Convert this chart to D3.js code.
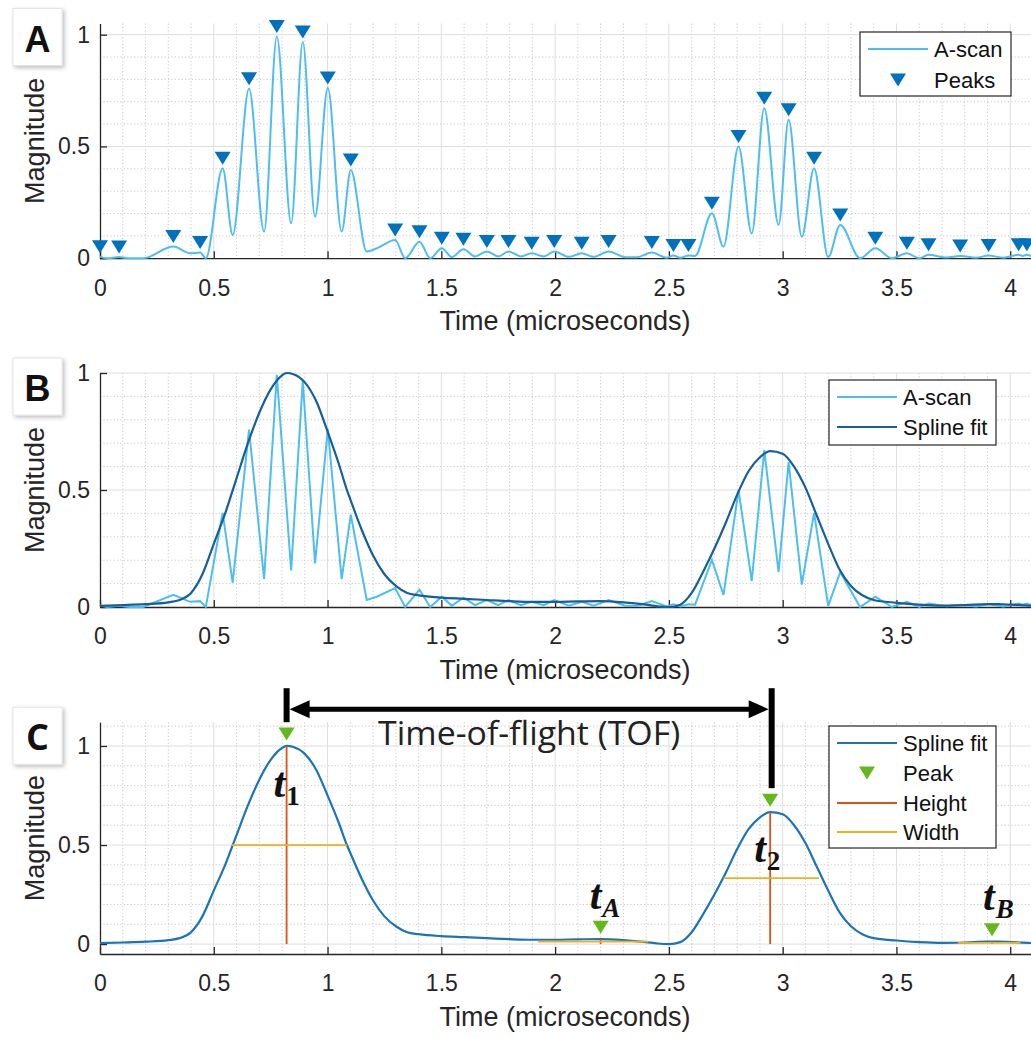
<!DOCTYPE html>
<html><head><meta charset="utf-8">
<script src="https://cdn.jsdelivr.net/npm/d3@7"></script>
<style>body{margin:0;background:#fff}svg{display:block}</style>
</head><body>
<svg id="chart" width="1031" height="1038"></svg>
<script>
// ---------------- DATA ----------------
const ascanT = [0.0,0.03,0.084,0.13,0.19,0.322,0.396,0.44,0.465,0.539,0.583,0.655,0.721,0.777,0.84,0.891,0.945,1.001,1.062,1.102,1.172,1.216,1.297,1.341,1.404,1.451,1.502,1.546,1.597,1.648,1.70,1.75,1.795,1.85,1.897,1.95,1.996,2.06,2.117,2.17,2.235,2.31,2.36,2.425,2.49,2.52,2.55,2.586,2.615,2.689,2.74,2.806,2.864,2.919,2.982,3.026,3.084,3.138,3.20,3.253,3.34,3.407,3.48,3.546,3.60,3.641,3.72,3.78,3.85,3.905,3.97,4.037,4.055,4.073,4.10];
const ascanV = [0.007,0.0,0.005,0.0,0.0,0.052,0.022,0.025,0.0,0.402,0.104,0.758,0.119,0.992,0.156,0.967,0.186,0.761,0.119,0.395,0.03,0.044,0.081,0.0,0.074,0.0,0.044,0.005,0.04,0.008,0.03,0.008,0.03,0.008,0.022,0.008,0.03,0.006,0.022,0.006,0.03,0.004,0.004,0.025,0.002,0.012,0.002,0.012,0.01,0.201,0.052,0.50,0.111,0.671,0.149,0.619,0.096,0.402,0.005,0.149,0.0,0.044,0.0,0.022,0.0,0.015,0.003,0.01,0.002,0.012,0.002,0.015,0.01,0.015,0.005];

const peaksT = [0.0,0.084,0.322,0.44,0.539,0.655,0.777,0.891,1.001,1.102,1.297,1.404,1.502,1.597,1.70,1.795,1.897,1.996,2.117,2.235,2.425,2.52,2.586,2.689,2.806,2.919,3.026,3.138,3.253,3.407,3.546,3.641,3.78,3.905,4.037,4.073];
const peaksV = [0.007,0.005,0.052,0.025,0.402,0.758,0.992,0.967,0.761,0.395,0.081,0.074,0.044,0.04,0.03,0.03,0.022,0.03,0.022,0.03,0.025,0.012,0.012,0.201,0.50,0.671,0.619,0.402,0.149,0.044,0.022,0.015,0.01,0.012,0.015,0.015];

const splineT = [0.0,0.1,0.2,0.3,0.35,0.4,0.45,0.5,0.55,0.6,0.65,0.7,0.75,0.8,0.82,0.85,0.9,0.95,1.0,1.05,1.085,1.1,1.15,1.2,1.25,1.3,1.35,1.4,1.5,1.6,1.7,1.8,1.9,2.0,2.1,2.2,2.3,2.4,2.45,2.5,2.55,2.6,2.65,2.7,2.75,2.8,2.85,2.9,2.945,3.0,3.05,3.1,3.15,3.2,3.25,3.3,3.35,3.4,3.5,3.6,3.7,3.8,3.9,3.95,4.0,4.1];
const splineV = [0.005,0.008,0.012,0.02,0.03,0.06,0.14,0.27,0.40,0.55,0.70,0.83,0.93,0.99,1.0,0.995,0.96,0.88,0.75,0.61,0.5,0.46,0.33,0.22,0.14,0.09,0.06,0.05,0.04,0.035,0.03,0.025,0.022,0.022,0.024,0.025,0.02,0.01,0.003,0.0,0.01,0.06,0.15,0.25,0.36,0.48,0.58,0.64,0.666,0.655,0.60,0.51,0.39,0.27,0.16,0.09,0.05,0.03,0.018,0.01,0.006,0.008,0.012,0.012,0.01,0.005];

const keyPeakT = [0.82, 2.945, 2.2, 3.92];
const keyPeakV = [1.0, 0.666, 0.025, 0.012];
const keyPeakSub = ["1", "2", "A", "B"];
const widthLeft = [0.58, 2.74, 1.925, 3.77];
const widthRight = [1.085, 3.16, 2.41, 4.045];
const widthLevel = [0.5, 0.333, 0.012, 0.006];
const heightBase = [0, 0, 0, 0];

const xTicks = [0, 0.5, 1, 1.5, 2, 2.5, 3, 3.5, 4];
const xTickLabels = ["0", "0.5", "1", "1.5", "2", "2.5", "3", "3.5", "4"];
const yTicks = [0, 0.5, 1];
const yTickLabels = ["0", "0.5", "1"];

// ---------------- STYLE ----------------
const C_ASCAN = "#4DBEEE", C_PEAKS = "#0072BD", C_SPLB = "#15609c", C_SPLC = "#1c74b8";
const C_PEAK = "#63b71f", C_HEIGHT = "#D95319", C_WIDTH = "#EDB120", C_AX = "#262626";
const SANS = "'Liberation Sans', Arial, sans-serif";

const svg = d3.select("#chart");
const defs = svg.append("defs");
const f = defs.append("filter").attr("id", "sh").attr("x", "-30%").attr("y", "-30%").attr("width", "160%").attr("height", "160%");
f.append("feDropShadow").attr("dx", 2).attr("dy", 2).attr("stdDeviation", 2).attr("flood-color", "#000").attr("flood-opacity", 0.25);

const tri = "M-8,-6.5L8,-6.5L0,6.5Z";
const ascan = ascanT.map((t, i) => ({t, v: ascanV[i]}));
const peaks = peaksT.map((t, i) => ({t, v: peaksV[i]}));
const spline = splineT.map((t, i) => ({t, v: splineV[i]}));

function panel(cfg) {
  const g = svg.append("g");
  const x = d3.scaleLinear().domain([0, 4.1]).range([100, 1033]);
  const y = d3.scaleLinear().domain(cfg.yd).range([cfg.bottom, cfg.top]);
  const xm = x.ticks(41).filter(d => d > 0 && Math.abs(d * 2 - Math.round(d * 2)) > 1e-6);
  const ym = y.ticks(12).filter(d => Math.abs(d * 2 - Math.round(d * 2)) > 1e-6);
  g.selectAll(".xm").data(xm).join("line").attr("x1", d => x(d)).attr("x2", d => x(d))
    .attr("y1", cfg.top).attr("y2", cfg.bottom).attr("stroke", "#c8c8c8").attr("stroke-dasharray", "1.2,2.2").attr("stroke-width", 1);
  g.selectAll(".ym").data(ym).join("line").attr("y1", d => y(d)).attr("y2", d => y(d))
    .attr("x1", 100).attr("x2", 1033).attr("stroke", "#c8c8c8").attr("stroke-dasharray", "1.2,2.2").attr("stroke-width", 1);
  g.selectAll(".xM").data(xTicks.slice(1)).join("line").attr("x1", d => x(d)).attr("x2", d => x(d))
    .attr("y1", cfg.top).attr("y2", cfg.bottom).attr("stroke", "#dedede").attr("stroke-width", 1);
  g.selectAll(".yM").data(yTicks.filter(d => d > cfg.yd[0])).join("line").attr("y1", d => y(d)).attr("y2", d => y(d))
    .attr("x1", 100).attr("x2", 1033).attr("stroke", "#dedede").attr("stroke-width", 1);
  const xa = g.append("g").attr("transform", `translate(0,${cfg.bottom})`)
    .call(d3.axisBottom(x).tickValues(xTicks).tickFormat((d, i) => xTickLabels[i]).tickSizeInner(-7).tickSizeOuter(0).tickPadding(21));
  const ya = g.append("g").attr("transform", `translate(100,0)`)
    .call(d3.axisLeft(y).tickValues(yTicks).tickFormat((d, i) => yTickLabels[i]).tickSizeInner(-7).tickSizeOuter(0).tickPadding(10));
  [xa, ya].forEach(a => {
    a.selectAll("path,line").attr("stroke", C_AX).attr("stroke-width", 1.3);
    a.selectAll("text").attr("fill", C_AX).style("font-family", SANS).style("font-size", "23px");
  });
  g.append("text").attr("x", 565).attr("y", cfg.bottom + 72).attr("text-anchor", "middle")
    .style("font-family", SANS).style("font-size", "27px").attr("fill", C_AX).text("Time (microseconds)");
  g.append("text").attr("transform", `translate(44,${(cfg.top + cfg.bottom) / 2}) rotate(-90)`).attr("text-anchor", "middle")
    .style("font-family", SANS).style("font-size", "27px").attr("fill", C_AX).text("Magnitude");
  g.append("rect").attr("x", 13).attr("y", cfg.top - 15).attr("width", 49).attr("height", 57)
    .attr("fill", "#fff").attr("stroke", "#e4e4e4").attr("filter", "url(#sh)");
  g.append("text").attr("x", 37.5).attr("y", cfg.top + 28).attr("text-anchor", "middle")
    .style("font-family", cfg.letterFont).style("font-weight", "bold").style("font-size", "36px").attr("fill", "#111").text(cfg.letter);
  return {g, x, y};
}

function legend(g, bx, by, bw, bh, lx0, lx1, tx, items) {
  const L = g.append("g");
  L.append("rect").attr("x", bx).attr("y", by).attr("width", bw).attr("height", bh)
    .attr("fill", "#fff").attr("stroke", C_AX).attr("stroke-width", 1.2);
  items.forEach(it => {
    const yy = by + it.dy;
    if (it.type === "line") {
      L.append("line").attr("x1", lx0).attr("x2", lx1).attr("y1", yy).attr("y2", yy).attr("stroke", it.color).attr("stroke-width", 2);
    } else {
      L.append("path").attr("d", tri).attr("transform", `translate(${(lx0 + lx1) / 2},${yy})`).attr("fill", it.color);
    }
    L.append("text").attr("x", tx).attr("y", yy).attr("dy", "0.36em").style("font-family", SANS).style("font-size", "22px")
      .attr("fill", "#111").text(it.label);
  });
}

// ---------------- PANEL A ----------------
{
  const {g, x, y} = panel({top: 23.5, bottom: 258.2, yd: [0, 1.05], letter: "A", letterFont: SANS});
  g.append("path").datum(ascan).attr("fill", "none").attr("stroke", C_ASCAN).attr("stroke-width", 2)
    .attr("d", d3.line().x(d => x(d.t)).y(d => y(d.v)).curve(d3.curveMonotoneX));
  g.selectAll(".pk").data(peaks).join("path").attr("d", tri)
    .attr("transform", d => `translate(${x(d.t)},${y(d.v) - 10})`).attr("fill", C_PEAKS);
  legend(g, 860, 32, 151, 64, 868, 928, 934, [
    {type: "line", color: C_ASCAN, label: "A-scan", dy: 17},
    {type: "marker", color: C_PEAKS, label: "Peaks", dy: 48}]);
}

// ---------------- PANEL B ----------------
{
  const {g, x, y} = panel({top: 373, bottom: 607, yd: [0, 1], letter: "B", letterFont: SANS});
  g.append("path").datum(ascan).attr("fill", "none").attr("stroke", C_ASCAN).attr("stroke-width", 2)
    .attr("d", d3.line().x(d => x(d.t)).y(d => y(d.v)));
  g.append("path").datum(spline).attr("fill", "none").attr("stroke", C_SPLB).attr("stroke-width", 2.2)
    .attr("d", d3.line().x(d => x(d.t)).y(d => y(d.v)).curve(d3.curveMonotoneX));
  legend(g, 829, 380, 167, 65, 837, 897, 903, [
    {type: "line", color: C_ASCAN, label: "A-scan", dy: 17},
    {type: "line", color: C_SPLB, label: "Spline fit", dy: 47}]);
}

// ---------------- PANEL C ----------------
{
  const {g, x, y} = panel({top: 722.2, bottom: 954, yd: [-0.05, 1.12], letter: "C", letterFont: "'Open Sans', sans-serif"});
  g.append("path").datum(spline).attr("fill", "none").attr("stroke", C_SPLC).attr("stroke-width", 2.2)
    .attr("d", d3.line().x(d => x(d.t)).y(d => y(d.v)).curve(d3.curveMonotoneX));
  keyPeakT.forEach((t, i) => {
    g.append("line").attr("x1", x(t)).attr("x2", x(t)).attr("y1", y(heightBase[i])).attr("y2", y(keyPeakV[i]))
      .attr("stroke", C_HEIGHT).attr("stroke-width", 1.8);
    g.append("line").attr("x1", x(widthLeft[i])).attr("x2", x(widthRight[i])).attr("y1", y(widthLevel[i])).attr("y2", y(widthLevel[i]))
      .attr("stroke", C_WIDTH).attr("stroke-width", 1.8);
    g.append("path").attr("d", tri).attr("transform", `translate(${x(t)},${y(keyPeakV[i]) - 12})`).attr("fill", C_PEAK);
  });
  const lab = [{dx: -13, dy: 51}, {dx: -16, dy: 50}, {dx: -11, dy: -30}, {dx: -9, dy: -32}];
  keyPeakT.forEach((t, i) => {
    const tx = x(t) + lab[i].dx, ty = y(keyPeakV[i]) + lab[i].dy;
    const T = g.append("text").attr("x", tx).attr("y", ty).style("font-family", "'Liberation Serif', 'DejaVu Serif', serif")
      .style("font-weight", "bold").attr("fill", "#111");
    T.append("tspan").style("font-style", "italic").style("font-size", "42px").text("t");
    T.append("tspan").attr("dx", 1).attr("dy", 8).style("font-size", "27px").style("font-style", i > 1 ? "italic" : "normal").text(keyPeakSub[i]);
  });
  const x1 = x(keyPeakT[0]), x2 = x(keyPeakT[1]) + 1.5, ay = 722.2 - 13;
  g.append("line").attr("x1", x1).attr("x2", x1).attr("y1", 722.2 - 34).attr("y2", 722.2).attr("stroke", "#000").attr("stroke-width", 6);
  g.append("line").attr("x1", x2).attr("x2", x2).attr("y1", 722.2 - 34).attr("y2", y(keyPeakV[1]) - 24).attr("stroke", "#000").attr("stroke-width", 6);
  g.append("line").attr("x1", x1 + 18).attr("x2", x2 - 18).attr("y1", ay).attr("y2", ay).attr("stroke", "#000").attr("stroke-width", 5);
  g.append("path").attr("d", `M${x1 + 3},${ay}L${x1 + 23},${ay - 9}L${x1 + 23},${ay + 9}Z`).attr("fill", "#000");
  g.append("path").attr("d", `M${x2 - 3},${ay}L${x2 - 23},${ay - 9}L${x2 - 23},${ay + 9}Z`).attr("fill", "#000");
  g.append("text").attr("x", (x1 + x2) / 2).attr("y", 745).attr("text-anchor", "middle")
    .style("font-family", "'Open Sans', sans-serif").style("font-size", "32px").attr("fill", "#222")
    .attr("textLength", 302).attr("lengthAdjust", "spacingAndGlyphs").text("Time-of-flight (TOF)");
  legend(g, 829, 726, 167, 122, 837, 897, 903, [
    {type: "line", color: C_SPLC, label: "Spline fit", dy: 17},
    {type: "marker", color: C_PEAK, label: "Peak", dy: 47},
    {type: "line", color: C_HEIGHT, label: "Height", dy: 77},
    {type: "line", color: C_WIDTH, label: "Width", dy: 106}]);
}
</script>
</body></html>
